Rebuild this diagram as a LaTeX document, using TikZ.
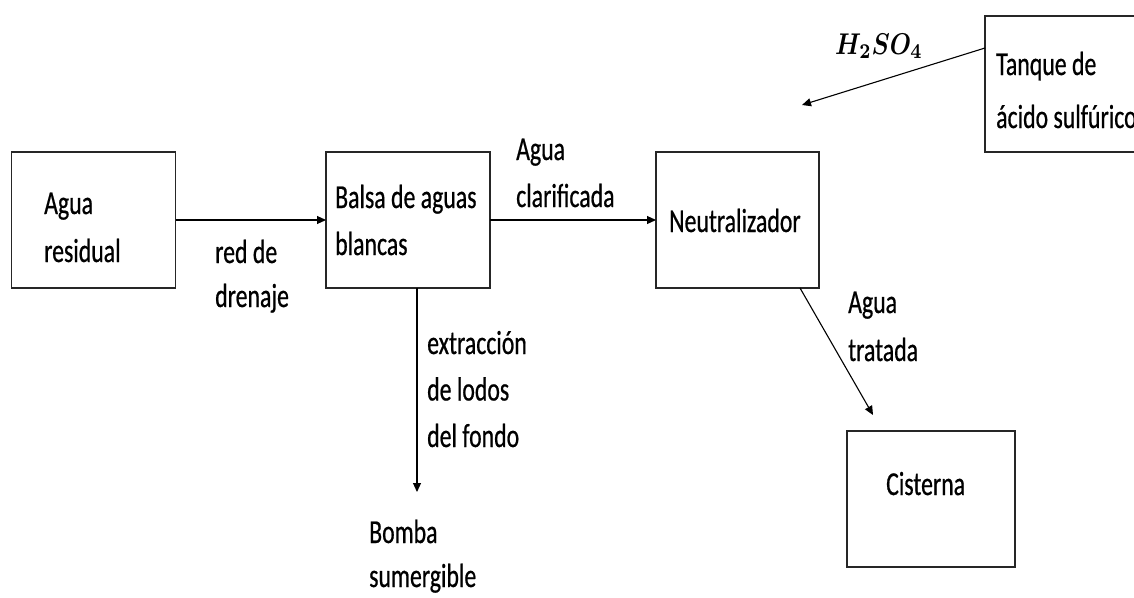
\documentclass[tikz,border=0pt]{standalone}
\usepackage{fontspec}
\setmainfont{Carlito}[FakeStretch=0.71,FakeBold=0.6]
\usetikzlibrary{arrows.meta}
\newcommand\twoline[3][46pt]{\vtop{\baselineskip=#1\hbox{#2}\hbox{#3}}}
\newcommand\threeline[3]{\vtop{\baselineskip=46.5pt\hbox{#1}\hbox{#2}\hbox{#3}}}
\begin{document}
\begin{tikzpicture}[x=1pt,y=-1pt,
  box/.style={draw=black!85, line width=1.1pt, inner sep=0pt, outer sep=0pt,
              minimum height=136pt},
  lbl/.style={anchor=base west, inner sep=0pt, font=\fontsize{33.5}{46}\selectfont},
  flow/.style={-{Triangle[length=9pt,width=8pt]}, line width=1.1pt}]
\useasboundingbox (0,0) rectangle (1134,597);

% boxes
\node[box, minimum width=164pt] (ar)  at (93.5,220) {};
\node[box, minimum width=164pt] (bal) at (408,220) {};
\node[box, minimum width=163pt] (neu) at (737.5,220) {};
\node[box, minimum width=164pt] (tan) at (1067,84) {};
\node[box, minimum width=168pt] (cis) at (931,499) {};

% free ends
\coordinate (dn) at (417,492);
\coordinate (nx) at (800,0);
\coordinate (cisin) at (873,415);
\coordinate (acid) at (802,105);

% connectors
\draw[flow] (ar.east) -- (bal.west);
\draw[flow] (bal.east) -- (neu.west);
\draw[flow] (bal.south -| dn) -- (dn);
\draw[flow] (neu.south -| nx) -- (cisin);
\draw[flow] ([yshift=36pt]tan.west) -- (acid);

% texts
\node[lbl] (t1) at (44,214) {\twoline[48pt]{Agua}{residual}};
\node[lbl] (t2) at (335,208) {\twoline[47pt]{Balsa de aguas}{blancas}};
\node[lbl] (t3) at (215,263) {\twoline[44pt]{red de}{drenaje}};
\node[lbl] (t4) at (516,160) {\twoline[47pt]{Agua}{clarificada}};
\node[lbl] (t5) at (669,232) {Neutralizador};
\node[lbl] (t6) at (427,354) {\threeline{extracción}{de lodos}{del fondo}};
\node[lbl] (t7) at (369,543) {\twoline[44pt]{Bomba}{sumergible}};
\node[lbl] (t8) at (848,313) {\twoline[48pt]{Agua}{tratada}};
\node[lbl] (t9) at (886,495) {Cisterna};
\node[lbl] (t10) at (996,75) {\twoline[53pt]{Tanque de}{ácido sulfúrico}};
\node[anchor=base west, inner sep=0pt] (t11) at (835,54) {\scalebox{2.45}[3.0]{\boldmath$H_2SO_4$}};
\end{tikzpicture}
\end{document}
